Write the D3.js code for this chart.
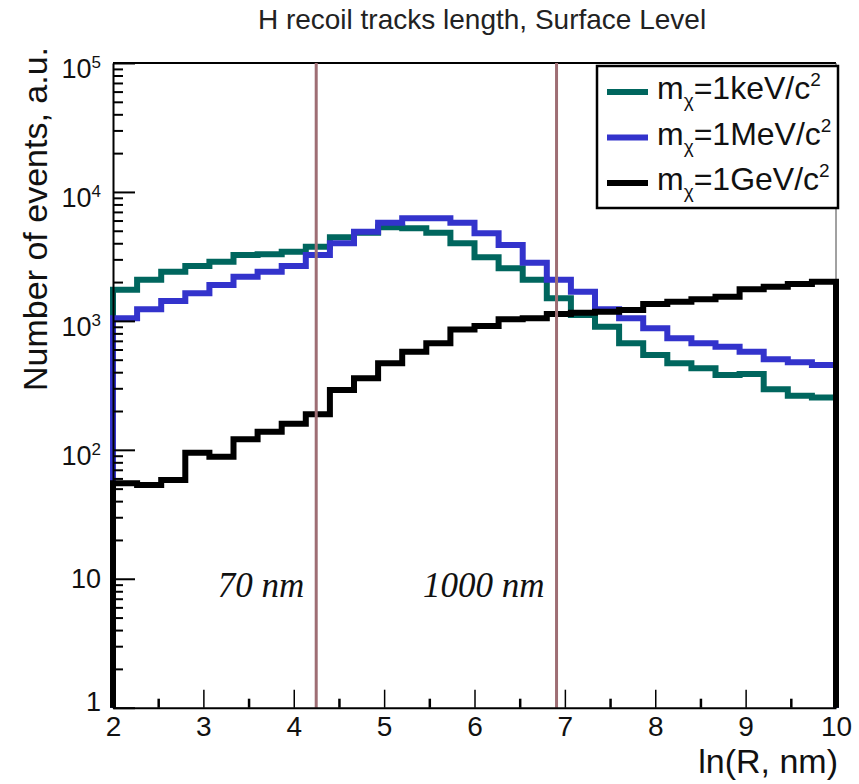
<!DOCTYPE html>
<html>
<head>
<meta charset="utf-8">
<script src="https://cdn.jsdelivr.net/npm/d3@7"></script>
<style>
  body { margin: 0; background: #fff; }
  text { font-family: "Liberation Sans", Arial, sans-serif; }
</style>
</head>
<body>
<div id="chart"></div>
<script>
// canvas size
var width = 859;
var height = 784;

// histogram binning: 30 bins in ln(R) from 2 to 10
var xMin = 2, xMax = 10, nBins = 30;

// series labels and bin contents
var seriesNames = ["keV", "MeV", "GeV"];
var seriesColors = ["#00665e", "#3333cc", "#000000"];

var keVCounts = [1740, 2080, 2400, 2660, 2880, 3240, 3280, 3440, 3760, 4450,
                 4830, 5320, 5220, 4830, 4000, 3110, 2560, 2080, 1500, 1110,
                 900, 670, 544, 469, 429, 380, 387, 295, 263, 254];
var MeVCounts = [1047, 1229, 1427, 1636, 1898, 2200, 2406, 2665, 3243, 4000,
                 4920, 5770, 6240, 6240, 5770, 4780, 3880, 2830, 2080, 1684,
                 1229, 1047, 876, 733, 670, 631, 577, 504, 477, 455];
var GeVCounts = [55, 53.4, 58.3, 95, 88.4, 121, 138, 159, 189, 291,
                 359, 469, 577, 670, 858, 913, 1029, 1047, 1131, 1157,
                 1178, 1214, 1352, 1408, 1470, 1540, 1758, 1841, 1932, 2013];

// reference track lengths (nm)
var refLengths = [70, 1000];
var refLabels = ["70 nm", "1000 nm"];

// axis ticks
var xMajorTicks = [2, 3, 4, 5, 6, 7, 8, 9, 10];
var xMinorTicks = [2.5, 3.5, 4.5, 5.5, 6.5, 7.5, 8.5, 9.5];
var yMajorTicks = [1, 10, 100, 1000, 10000, 100000];
var yTickLabels = ["1", "10", "10|2", "10|3", "10|4", "10|5"];

var allCounts = [keVCounts, MeVCounts, GeVCounts];

// plot frame
var frameL = 113, frameR = 836, frameT = 63, frameB = 707.7;

var x = d3.scaleLinear().domain([xMin, xMax]).range([frameL, frameR]);
var y = d3.scaleLog().domain([1, 1e5]).range([frameB, frameT]);

var svg = d3.select("#chart")
    .append("svg")
    .attr("width", width)
    .attr("height", height);

// title
svg.append("text")
    .attr("x", 482)
    .attr("y", 29)
    .attr("text-anchor", "middle")
    .style("font-size", "28px")
    .style("fill", "#222")
    .text("H recoil tracks length, Surface Level");

// frame top and right
svg.append("line")
    .attr("x1", frameL).attr("x2", frameR).attr("y1", frameT).attr("y2", frameT)
    .style("stroke", "#000").style("stroke-width", 2);
svg.append("line")
    .attr("x1", frameR).attr("x2", frameR).attr("y1", frameT).attr("y2", frameB)
    .style("stroke", "#444").style("stroke-width", 1);

// histograms, drawn as steps that start and end on the baseline
var binW = (xMax - xMin) / nBins;
function histPoints(counts) {
    var pts = [[xMin, 1]];
    counts.forEach(function(c, i) {
        pts.push([xMin + i * binW, c]);
        pts.push([xMin + (i + 1) * binW, c]);
    });
    pts.push([xMax, 1]);
    return pts;
}

var line = d3.line()
    .x(function(d) { return x(d[0]); })
    .y(function(d) { return y(d[1]); });

allCounts.forEach(function(counts, i) {
    svg.append("path")
        .datum(histPoints(counts))
        .attr("d", line)
        .style("fill", "none")
        .style("stroke", seriesColors[i])
        .style("stroke-width", 6)
        .style("stroke-linejoin", "miter");
});

// vertical reference lines
refLengths.forEach(function(r, i) {
    var lx = x(Math.log(r));
    svg.append("line")
        .attr("x1", lx).attr("x2", lx).attr("y1", frameT).attr("y2", frameB)
        .style("stroke", "#9e6e74")
        .style("stroke-width", 3);
    svg.append("text")
        .attr("x", lx - 12)
        .attr("y", 597)
        .attr("text-anchor", "end")
        .style("font-family", "'Liberation Serif', 'Times New Roman', serif")
        .style("font-style", "italic")
        .style("font-size", "35px")
        .style("fill", "#111")
        .text(refLabels[i]);
});

// x axis: ticks pointing up, labels below
var xAxis = svg.append("g")
    .attr("transform", "translate(0," + frameB + ")")
    .call(d3.axisBottom(x).tickValues(xMajorTicks).tickSizeInner(-18).tickSizeOuter(0).tickPadding(8).tickFormat(d3.format("d")));
xAxis.select(".domain").style("stroke-width", 2);
xAxis.selectAll(".tick line").style("stroke-width", 1.5);
xAxis.selectAll("text").style("font-size", "28px").style("font-family", "'Liberation Sans', Arial, sans-serif").style("fill", "#111");

svg.append("g")
    .attr("transform", "translate(0," + frameB + ")")
    .call(d3.axisBottom(x).tickValues(xMinorTicks).tickSizeInner(-9).tickSizeOuter(0).tickFormat(""))
    .call(function(g) { g.select(".domain").remove(); })
    .selectAll(".tick line").style("stroke-width", 2.5);

// y axis: major and minor ticks pointing right
var yMinorTicks = [];
for (var e = 0; e < 5; e++) {
    for (var m = 2; m <= 9; m++) yMinorTicks.push(m * Math.pow(10, e));
}

var yAxis = svg.append("g")
    .attr("transform", "translate(" + frameL + ",0)")
    .call(d3.axisLeft(y).tickValues(yMajorTicks).tickSizeInner(-22).tickSizeOuter(0).tickFormat(""));
yAxis.select(".domain").style("stroke-width", 2);
yAxis.selectAll(".tick line").style("stroke-width", 2);

svg.append("g")
    .attr("transform", "translate(" + frameL + ",0)")
    .call(d3.axisLeft(y).tickValues(yMinorTicks).tickSizeInner(-10).tickSizeOuter(0).tickFormat(""))
    .call(function(g) { g.select(".domain").remove(); })
    .selectAll(".tick line").style("stroke-width", 2);

// y tick labels with superscript exponents
yMajorTicks.forEach(function(v, i) {
    var parts = yTickLabels[i].split("|");
    var ty = y(v);
    var t = svg.append("text")
        .attr("x", 101)
        .attr("text-anchor", "end")
        .style("font-size", "27px")
        .style("fill", "#111");
    if (parts.length === 1) {
        t.attr("y", ty + (v === 1 ? 3 : 9)).text(parts[0]);
    } else {
        t.attr("y", ty + 15);
        t.append("tspan").text(parts[0]);
        t.append("tspan").attr("dy", -10).style("font-size", "17px").text(parts[1]);
    }
});

// axis titles
svg.append("text")
    .attr("transform", "translate(47,47) rotate(-90)")
    .attr("text-anchor", "end")
    .style("font-size", "34px")
    .style("fill", "#111")
    .text("Number of events, a.u.");

svg.append("text")
    .attr("x", 838)
    .attr("y", 773)
    .attr("text-anchor", "end")
    .style("font-size", "34px")
    .style("fill", "#111")
    .text("ln(R, nm)");

// legend
var legend = svg.append("g");
legend.append("rect")
    .attr("x", 597).attr("y", 66).attr("width", 241).attr("height", 142)
    .style("fill", "#fff").style("stroke", "#000").style("stroke-width", 2.5);

var legendY = [92, 137.5, 183];
seriesNames.forEach(function(name, i) {
    legend.append("line")
        .attr("x1", 607).attr("x2", 648).attr("y1", legendY[i]).attr("y2", legendY[i])
        .style("stroke", seriesColors[i]).style("stroke-width", 6);
    var t = legend.append("text")
        .attr("x", 657)
        .attr("y", legendY[i] + 7)
        .style("font-size", "32px")
        .style("fill", "#111");
    t.append("tspan").text("m");
    t.append("tspan").attr("dy", 8).style("font-size", "19px").text("χ");
    t.append("tspan").attr("dy", -8).text("=1" + name + "/c");
    t.append("tspan").attr("dy", -13).style("font-size", "19px").text("2");
});
</script>
</body>
</html>
